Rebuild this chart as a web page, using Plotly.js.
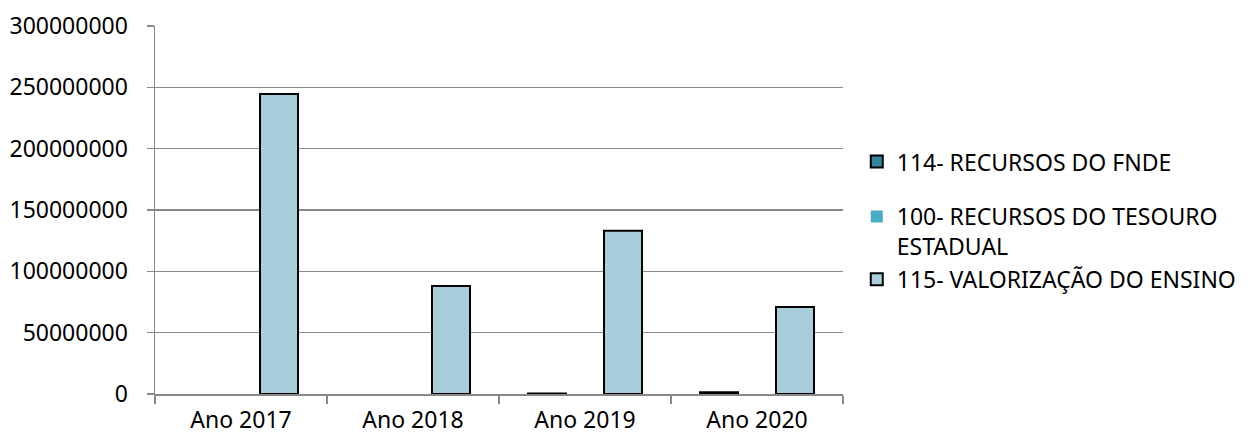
<!DOCTYPE html>
<html>
<head>
<meta charset="utf-8">
<script src="https://cdn.plot.ly/plotly-3.0.1.min.js"></script>
<style>html,body{margin:0;padding:0;background:#fff;}#chart{width:1248px;height:438px;}</style>
</head>
<body>
<div id="chart"></div>
<script>
const categories = ["Ano 2017", "Ano 2018", "Ano 2019", "Ano 2020"];
const seriesNames = ["114- RECURSOS DO FNDE", "100- RECURSOS DO TESOURO<br>ESTADUAL", "115- VALORIZAÇÃO DO ENSINO"];
const fnde114 = [null, null, 400000, 1500000];
const tesouro100 = [0, 0, 0, 0];
const valorizacao115 = [244500000, 88000000, 133000000, 71000000];
const yTicks = [0, 50000000, 100000000, 150000000, 200000000, 250000000, 300000000];

const FONT = "Noto Sans, Open Sans, sans-serif";

const traces = [
  {type: "bar", name: seriesNames[0], x: categories, y: fnde114, legendgroup: "a",
   marker: {color: "#31859C", line: {color: "#000", width: 2}}, hoverinfo: "skip"},
  {type: "bar", name: seriesNames[1], x: categories, y: tesouro100, legendgroup: "b",
   marker: {color: "#4BACC6", line: {color: "#4BACC6", width: 0}}, hoverinfo: "skip"},
  {type: "bar", name: seriesNames[2], x: categories, y: valorizacao115, legendgroup: "b",
   marker: {color: "#A8CEDC", line: {color: "#000", width: 2}}, hoverinfo: "skip"}
];

const layout = {
  width: 1248, height: 438,
  margin: {l: 155, r: 405, t: 26, b: 44, autoexpand: false},
  paper_bgcolor: "#fff", plot_bgcolor: "#fff",
  font: {family: FONT, size: 23, color: "#000"},
  barmode: "group", bargap: 0.337, bargroupgap: 0,
  showlegend: true,
  legend: {x: 1.02, xanchor: "left", y: 0.69, yanchor: "top",
           font: {family: FONT, size: 23, color: "#000"},
           tracegroupgap: 22, valign: "top", traceorder: "grouped",
           itemwidth: 30, bgcolor: "rgba(0,0,0,0)"},
  xaxis: {type: "category", showgrid: false, showline: true, linecolor: "#888", linewidth: 1.5,
          ticks: "outside", tickson: "boundaries", ticklen: 8, tickcolor: "#888", tickwidth: 1.5,
          ticklabelstandoff: 5,
          tickfont: {family: FONT, size: 23, color: "#000"}, fixedrange: true},
  yaxis: {range: [0, 300000000], tickvals: yTicks, tickformat: "d", showgrid: true,
          gridcolor: "#888", gridwidth: 1.5, showline: true, linecolor: "#888", linewidth: 1.5,
          ticks: "outside", ticklen: 7, tickcolor: "#888", tickwidth: 1.5, zeroline: false,
          ticklabelstandoff: 14,
          tickfont: {family: FONT, size: 23, color: "#000"}, fixedrange: true}
};

Plotly.newPlot("chart", traces, layout, {displayModeBar: false, staticPlot: true});
</script>
</body>
</html>
